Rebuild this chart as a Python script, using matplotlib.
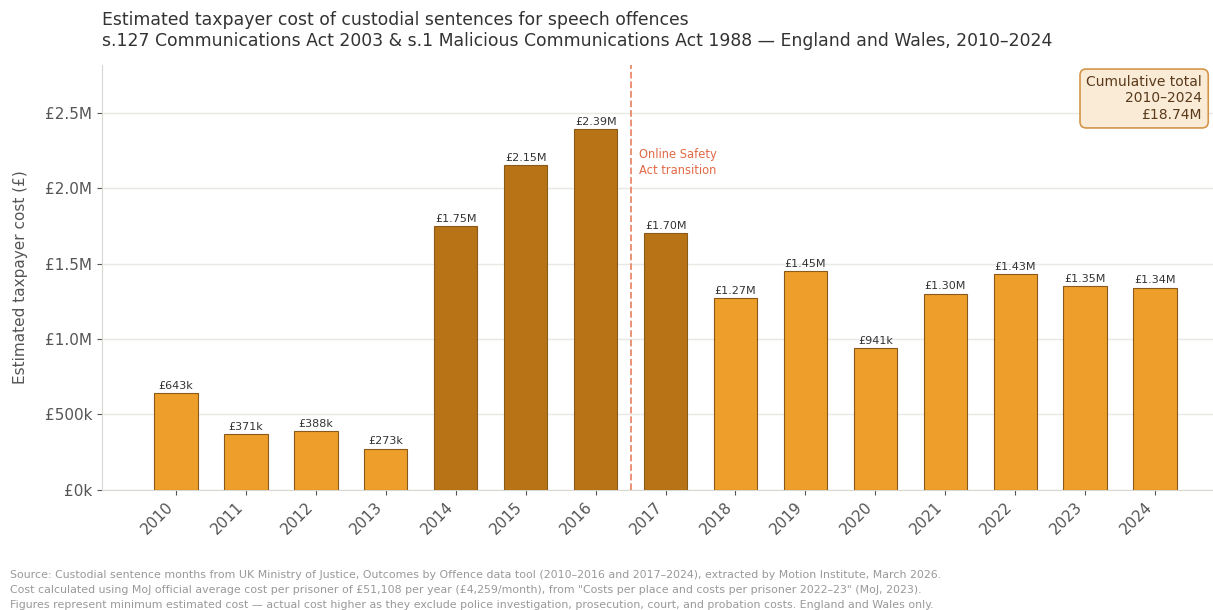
import matplotlib.pyplot as plt
from matplotlib.ticker import FuncFormatter

years = ['2010', '2011', '2012', '2013', '2014', '2015', '2016', '2017',
         '2018', '2019', '2020', '2021', '2022', '2023', '2024']
cost = [643e3, 371e3, 388e3, 273e3, 1.75e6, 2.15e6, 2.39e6, 1.70e6,
        1.27e6, 1.45e6, 941e3, 1.30e6, 1.43e6, 1.35e6, 1.34e6]
highlight = ['2014', '2015', '2016', '2017']
labels = ['£643k', '£371k', '£388k', '£273k', '£1.75M', '£2.15M', '£2.39M', '£1.70M',
          '£1.27M', '£1.45M', '£941k', '£1.30M', '£1.43M', '£1.35M', '£1.34M']

light = '#EE9E2A'
dark = '#B87316'
colors = [dark if y in highlight else light for y in years]

fig = plt.figure(figsize=(12.13, 6.1), dpi=100)
ax = fig.add_axes([0.0841, 0.197, 0.916, 0.697])

x = list(range(len(years)))
ax.bar(x, cost, width=0.62, color=colors, edgecolor='#8a5a1a', linewidth=0.8, zorder=3)
for xi, v, lab in zip(x, cost, labels):
    ax.text(xi, v + 15e3, lab, ha='center', va='bottom', fontsize=8, color='#333333', zorder=4)

ax.axvline(6.5, color='#E8896A', linestyle='--', linewidth=1.3, zorder=2)
ax.text(6.62, 2.17e6, 'Online Safety\nAct transition', color='#E06A45', fontsize=8.3,
        ha='left', va='center', linespacing=1.35)

ax.set_xlim(-1.058, 14.83)
ax.set_ylim(0, 2.818e6)
ax.set_xticks(x)
ax.set_xticklabels(years, rotation=45, ha='right', fontsize=11, color='#555555')
ax.set_yticks([0, 0.5e6, 1e6, 1.5e6, 2e6, 2.5e6])
ax.yaxis.set_major_formatter(FuncFormatter(lambda v, p: '£%dk' % (v / 1e3) if v < 1e6 else '£%.1fM' % (v / 1e6)))
ax.tick_params(axis='y', labelsize=11, colors='#555555')
ax.tick_params(axis='x', colors='#555555')
ax.set_ylabel('Estimated taxpayer cost (£)', fontsize=11, color='#555555', labelpad=12)
ax.grid(axis='y', color='#e8e8e4', linewidth=1, zorder=0)
for s in ['top', 'right']:
    ax.spines[s].set_visible(False)
for s in ['left', 'bottom']:
    ax.spines[s].set_color('#d8d8d2')

ax.text(0.99, 0.975, 'Cumulative total\n2010–2024\n£18.74M', transform=ax.transAxes,
        ha='right', va='top', fontsize=10, color='#5a3a1a', multialignment='right',
        bbox=dict(boxstyle='round,pad=0.45', facecolor='#FAEBD7', edgecolor='#D4954A', linewidth=1.2))

fig.text(102 / 1213, 1 - 11 / 610,
         'Estimated taxpayer cost of custodial sentences for speech offences\n'
         's.127 Communications Act 2003 & s.1 Malicious Communications Act 1988 — England and Wales, 2010–2024',
         ha='left', va='top', fontsize=12.4, color='#333333', linespacing=1.25)

fig.text(10 / 1213, 1 - 570 / 610,
         'Source: Custodial sentence months from UK Ministry of Justice, Outcomes by Offence data tool (2010–2016 and 2017–2024), extracted by Motion Institute, March 2026.\n'
         'Cost calculated using MoJ official average cost per prisoner of £51,108 per year (£4,259/month), from "Costs per place and costs per prisoner 2022–23" (MoJ, 2023).\n'
         'Figures represent minimum estimated cost — actual cost higher as they exclude police investigation, prosecution, court, and probation costs. England and Wales only.',
         ha='left', va='top', fontsize=7.95, color='#999999', linespacing=1.62)

fig.savefig('out.png', dpi=100)
